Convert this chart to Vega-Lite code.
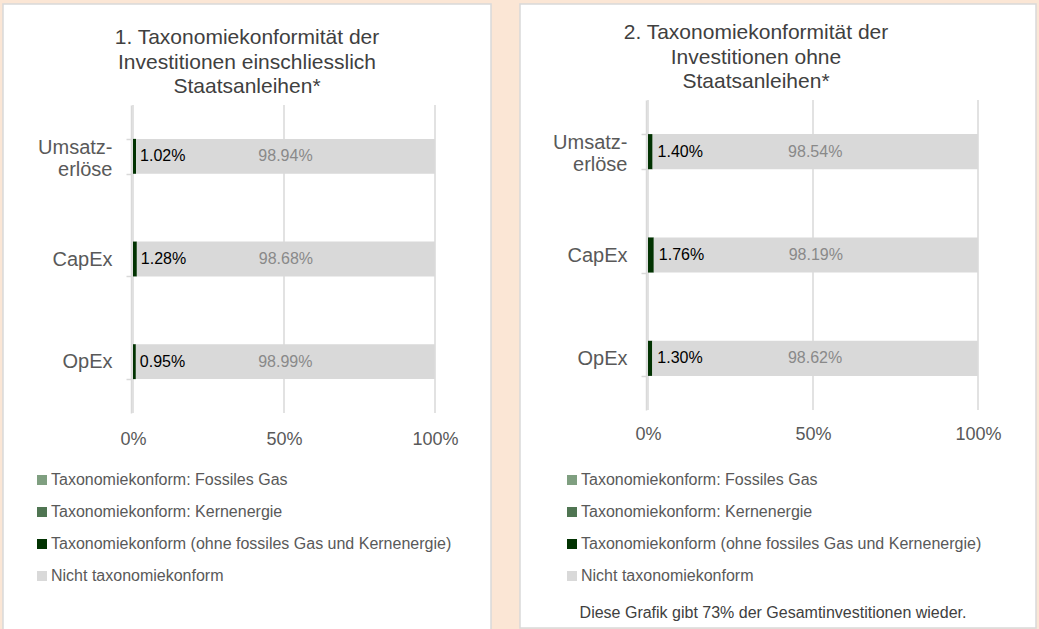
{
  "$schema": "https://vega.github.io/schema/vega-lite/v6.json",
  "background": "#FBE6D5",
  "padding": {"left": 2, "top": -7, "right": 3, "bottom": 0},
  "spacing": 29,
  "bounds": "flush",
  "resolve": {"scale": {"color": "independent", "x": "independent", "y": "independent"}, "legend": {"color": "independent"}, "axis": {"x": "independent", "y": "independent"}},
  "config": {
    "font": "Liberation Sans",
    "view": {"fill": "white", "stroke": "#D9D9D9", "strokeWidth": 1.5}
  },
  "datasets": {
    "grid": [{"g": 0}, {"g": 0.5}, {"g": 1}],
    "shares": [
      {"panel": 1, "cat": "Umsatzerlöse", "typ": "Taxonomiekonform (ohne fossiles Gas und Kernenergie)", "v": 0.0102},
      {"panel": 1, "cat": "Umsatzerlöse", "typ": "Nicht taxonomiekonform", "v": 0.9894},
      {"panel": 1, "cat": "CapEx", "typ": "Taxonomiekonform (ohne fossiles Gas und Kernenergie)", "v": 0.0128},
      {"panel": 1, "cat": "CapEx", "typ": "Nicht taxonomiekonform", "v": 0.9868},
      {"panel": 1, "cat": "OpEx", "typ": "Taxonomiekonform (ohne fossiles Gas und Kernenergie)", "v": 0.0095},
      {"panel": 1, "cat": "OpEx", "typ": "Nicht taxonomiekonform", "v": 0.9899},
      {"panel": 2, "cat": "Umsatzerlöse", "typ": "Taxonomiekonform (ohne fossiles Gas und Kernenergie)", "v": 0.0140},
      {"panel": 2, "cat": "Umsatzerlöse", "typ": "Nicht taxonomiekonform", "v": 0.9854},
      {"panel": 2, "cat": "CapEx", "typ": "Taxonomiekonform (ohne fossiles Gas und Kernenergie)", "v": 0.0176},
      {"panel": 2, "cat": "CapEx", "typ": "Nicht taxonomiekonform", "v": 0.9819},
      {"panel": 2, "cat": "OpEx", "typ": "Taxonomiekonform (ohne fossiles Gas und Kernenergie)", "v": 0.0130},
      {"panel": 2, "cat": "OpEx", "typ": "Nicht taxonomiekonform", "v": 0.9862}
    ]
  },
  "hconcat": [
    {
      "width": 488,
      "height": 640,
      "title": {"text": ["1. Taxonomiekonformität der", "Investitionen einschliesslich", "Staatsanleihen*"], "fontSize": 21, "fontWeight": "normal", "color": "#404040", "lineHeight": 24.5, "anchor": "middle", "frame": "group", "baseline": "top", "offset": -103},
      "resolve": {"scale": {"y": "independent"}, "axis": {"y": "independent"}},
      "layer": [
        {
          "data": {"name": "grid"},
          "mark": {"type": "rule", "color": "#D9D9D9", "strokeWidth": 1.5},
          "encoding": {
            "x": {"field": "g", "type": "quantitative",
              "scale": {"domain": [0, 1], "range": [130, 432], "nice": false},
              "axis": {"orient": "bottom", "offset": -214, "values": [0, 0.5, 1], "format": ".0%", "domain": false, "ticks": false, "grid": false, "labelFlush": false, "labelFontSize": 18, "labelColor": "#595959", "labelPadding": 0, "title": null}},
            "y": {"datum": 0, "type": "quantitative", "scale": {"domain": [0, 1], "range": [101, 409]}, "axis": null},
            "y2": {"datum": 1}
          }
        },
        {
          "data": {"name": "shares"},
          "transform": [{"filter": "datum.panel == 1"}],
          "mark": {"type": "bar"},
          "encoding": {
            "x": {"field": "v", "type": "quantitative", "stack": "zero",
              "scale": {"domain": [0, 1], "range": [130, 432], "nice": false},
              "axis": {"orient": "bottom", "offset": -214, "values": [0, 0.5, 1], "format": ".0%", "domain": false, "ticks": false, "grid": false, "labelFlush": false, "labelFontSize": 18, "labelColor": "#595959", "labelPadding": 0, "title": null}},
            "y": {"field": "cat", "type": "nominal", "sort": ["Umsatzerlöse", "CapEx", "OpEx"],
              "scale": {"range": [101, 409], "paddingInner": 0.66, "paddingOuter": 0.33},
              "axis": {"orient": "left", "offset": -128, "title": null, "grid": false,
                "labelExpr": "datum.value == 'Umsatzerlöse' ? ['Umsatz-', 'erlöse'] : datum.value",
                "labelOffset": {"condition": {"test": "datum.value == 'Umsatzerlöse'", "value": -9}, "value": 0},
                "labelFontSize": 20, "labelColor": "#595959", "labelLineHeight": 22, "labelPadding": 14,
                "domainColor": "#D9D9D9", "domainWidth": 1.5, "tickColor": "#D9D9D9", "tickWidth": 1.5, "tickSize": 5, "tickBand": "extent"}},
            "color": {"field": "typ", "type": "nominal",
              "scale": {"domain": ["Taxonomiekonform: Fossiles Gas", "Taxonomiekonform: Kernenergie", "Taxonomiekonform (ohne fossiles Gas und Kernenergie)", "Nicht taxonomiekonform"], "range": ["#7F9F80", "#4F7552", "#023302", "#D9D9D9"]},
              "legend": {"orient": "none", "legendX": 31, "legendY": 468, "title": null, "symbolType": "square", "symbolSize": 100, "symbolStrokeWidth": 0, "labelFontSize": 16, "labelColor": "#595959", "labelOffset": 1, "rowPadding": 16, "labelLimit": 600}},
            "order": {"field": "typ", "sort": "descending"}
          }
        },
        {
          "data": {"name": "shares"},
          "transform": [{"filter": "datum.panel == 1 && datum.typ == 'Taxonomiekonform (ohne fossiles Gas und Kernenergie)'"}],
          "mark": {"type": "text", "align": "left", "baseline": "middle", "dx": 4, "fontSize": 16, "color": "#000000"},
          "encoding": {
            "x": {"field": "v", "type": "quantitative", "stack": null},
            "y": {"field": "cat", "type": "nominal", "sort": ["Umsatzerlöse", "CapEx", "OpEx"],
              "scale": {"range": [101, 409], "paddingInner": 0.66, "paddingOuter": 0.33}, "axis": null},
            "text": {"field": "v", "type": "quantitative", "format": ".2%"}
          }
        },
        {
          "data": {"name": "shares"},
          "transform": [
            {"filter": "datum.panel == 1"},
            {"stack": "v", "groupby": ["cat"], "sort": [{"field": "typ", "order": "descending"}], "as": ["v0", "v1"]},
            {"calculate": "(datum.v0 + datum.v1) / 2", "as": "mid"},
            {"filter": "datum.typ == 'Nicht taxonomiekonform'"}
          ],
          "mark": {"type": "text", "align": "center", "baseline": "middle", "fontSize": 16, "color": "#898989"},
          "encoding": {
            "x": {"field": "mid", "type": "quantitative"},
            "y": {"field": "cat", "type": "nominal", "sort": ["Umsatzerlöse", "CapEx", "OpEx"],
              "scale": {"range": [101, 409], "paddingInner": 0.66, "paddingOuter": 0.33}, "axis": null},
            "text": {"field": "v", "type": "quantitative", "format": ".2%"}
          }
        }
      ]
    },
    {
      "width": 516,
      "height": 624,
      "title": {"text": ["2. Taxonomiekonformität der", "Investitionen ohne", "Staatsanleihen*"], "fontSize": 21, "fontWeight": "normal", "color": "#404040", "lineHeight": 24.5, "anchor": "middle", "frame": "group", "baseline": "top", "offset": -98, "dx": -22},
      "resolve": {"scale": {"y": "independent"}, "axis": {"y": "independent"}},
      "layer": [
        {
          "data": {"name": "grid"},
          "mark": {"type": "rule", "color": "#D9D9D9", "strokeWidth": 1.5},
          "encoding": {
            "x": {"field": "g", "type": "quantitative",
              "scale": {"domain": [0, 1], "range": [128, 458], "nice": false},
              "axis": {"orient": "bottom", "offset": -203, "values": [0, 0.5, 1], "format": ".0%", "domain": false, "ticks": false, "grid": false, "labelFlush": false, "labelFontSize": 18, "labelColor": "#595959", "labelPadding": 0, "title": null}},
            "y": {"datum": 0, "type": "quantitative", "scale": {"domain": [0, 1], "range": [96, 406]}, "axis": null},
            "y2": {"datum": 1}
          }
        },
        {
          "data": {"name": "shares"},
          "transform": [{"filter": "datum.panel == 2"}],
          "mark": {"type": "bar"},
          "encoding": {
            "x": {"field": "v", "type": "quantitative", "stack": "zero",
              "scale": {"domain": [0, 1], "range": [128, 458], "nice": false},
              "axis": {"orient": "bottom", "offset": -203, "values": [0, 0.5, 1], "format": ".0%", "domain": false, "ticks": false, "grid": false, "labelFlush": false, "labelFontSize": 18, "labelColor": "#595959", "labelPadding": 0, "title": null}},
            "y": {"field": "cat", "type": "nominal", "sort": ["Umsatzerlöse", "CapEx", "OpEx"],
              "scale": {"range": [96, 406], "paddingInner": 0.66, "paddingOuter": 0.33},
              "axis": {"orient": "left", "offset": -126, "title": null, "grid": false,
                "labelExpr": "datum.value == 'Umsatzerlöse' ? ['Umsatz-', 'erlöse'] : datum.value",
                "labelOffset": {"condition": {"test": "datum.value == 'Umsatzerlöse'", "value": -9}, "value": 0},
                "labelFontSize": 20, "labelColor": "#595959", "labelLineHeight": 22, "labelPadding": 14,
                "domainColor": "#D9D9D9", "domainWidth": 1.5, "tickColor": "#D9D9D9", "tickWidth": 1.5, "tickSize": 5, "tickBand": "extent"}},
            "color": {"field": "typ", "type": "nominal",
              "scale": {"domain": ["Taxonomiekonform: Fossiles Gas", "Taxonomiekonform: Kernenergie", "Taxonomiekonform (ohne fossiles Gas und Kernenergie)", "Nicht taxonomiekonform"], "range": ["#7F9F80", "#4F7552", "#023302", "#D9D9D9"]},
              "legend": {"orient": "none", "legendX": 44, "legendY": 468, "title": "Diese Grafik gibt 73% der Gesamtinvestitionen wieder.", "titleOrient": "bottom", "titleAnchor": "middle", "titleFontSize": 16, "titleFontWeight": "normal", "titleColor": "#404040", "titlePadding": 21, "titleLimit": 600, "symbolType": "square", "symbolSize": 100, "symbolStrokeWidth": 0, "labelFontSize": 16, "labelColor": "#595959", "labelOffset": 1, "rowPadding": 16, "labelLimit": 600}},
            "order": {"field": "typ", "sort": "descending"}
          }
        },
        {
          "data": {"name": "shares"},
          "transform": [{"filter": "datum.panel == 2 && datum.typ == 'Taxonomiekonform (ohne fossiles Gas und Kernenergie)'"}],
          "mark": {"type": "text", "align": "left", "baseline": "middle", "dx": 5, "fontSize": 16, "color": "#000000"},
          "encoding": {
            "x": {"field": "v", "type": "quantitative", "stack": null},
            "y": {"field": "cat", "type": "nominal", "sort": ["Umsatzerlöse", "CapEx", "OpEx"],
              "scale": {"range": [96, 406], "paddingInner": 0.66, "paddingOuter": 0.33}, "axis": null},
            "text": {"field": "v", "type": "quantitative", "format": ".2%"}
          }
        },
        {
          "data": {"name": "shares"},
          "transform": [
            {"filter": "datum.panel == 2"},
            {"stack": "v", "groupby": ["cat"], "sort": [{"field": "typ", "order": "descending"}], "as": ["v0", "v1"]},
            {"calculate": "(datum.v0 + datum.v1) / 2", "as": "mid"},
            {"filter": "datum.typ == 'Nicht taxonomiekonform'"}
          ],
          "mark": {"type": "text", "align": "center", "baseline": "middle", "fontSize": 16, "color": "#898989"},
          "encoding": {
            "x": {"field": "mid", "type": "quantitative"},
            "y": {"field": "cat", "type": "nominal", "sort": ["Umsatzerlöse", "CapEx", "OpEx"],
              "scale": {"range": [96, 406], "paddingInner": 0.66, "paddingOuter": 0.33}, "axis": null},
            "text": {"field": "v", "type": "quantitative", "format": ".2%"}
          }
        }
      ]
    }
  ]
}
